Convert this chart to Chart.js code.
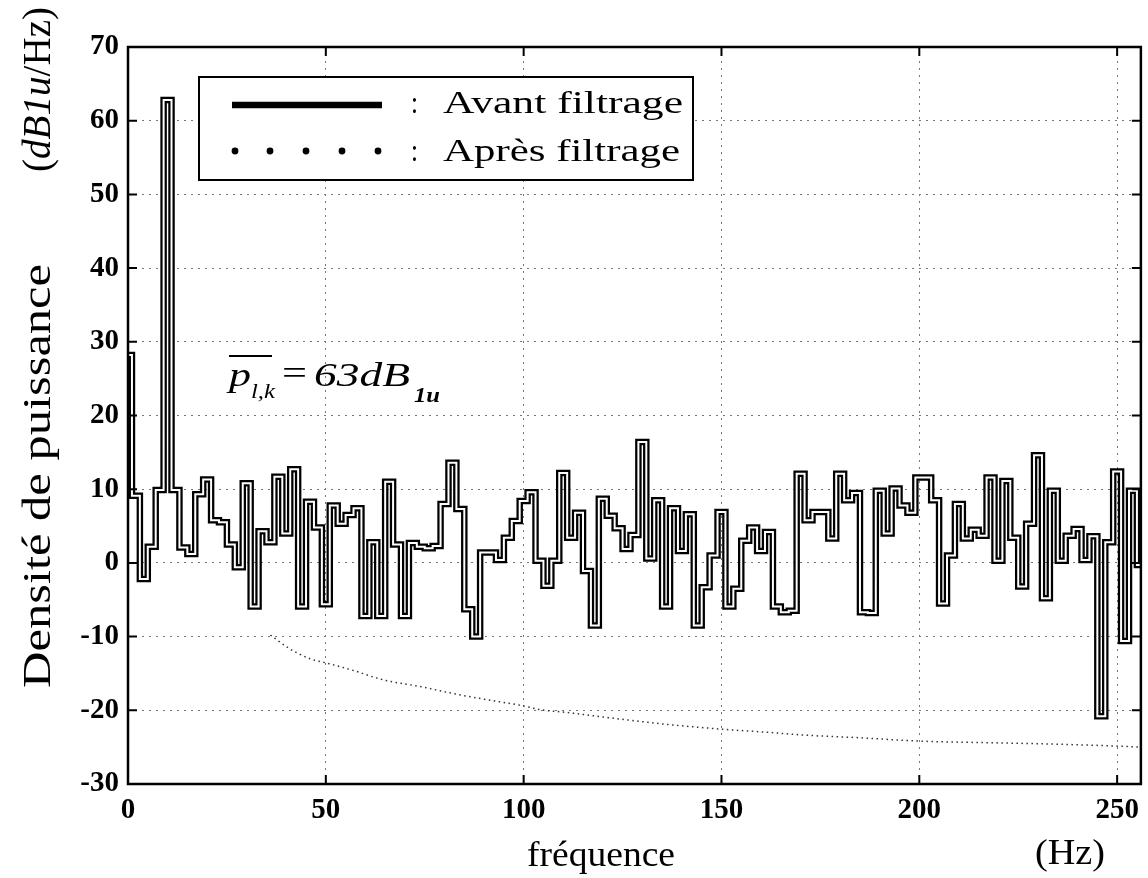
<!DOCTYPE html>
<html>
<head>
<meta charset="utf-8">
<script src="https://cdn.jsdelivr.net/npm/chart.js@4.4.1/dist/chart.umd.min.js"></script>
<style>
  html, body { margin: 0; padding: 0; background: #fff; }
</style>
</head>
<body>
<canvas id="psd" width="1148" height="878"></canvas>
<script>
// frequency bins (Hz), one value every 2 Hz
const freqs = [0,2,4,6,8,10,12,14,16,18,20,22,24,26,28,30,32,34,36,38,40,42,44,46,48,50,52,54,56,58,
  60,62,64,66,68,70,72,74,76,78,80,82,84,86,88,90,92,94,96,98,100,102,104,106,108,110,112,114,116,118,
  120,122,124,126,128,130,132,134,136,138,140,142,144,146,148,150,152,154,156,158,160,162,164,166,168,170,
  172,174,176,178,180,182,184,186,188,190,192,194,196,198,200,202,204,206,208,210,212,214,216,218,220,222,
  224,226,228,230,232,234,236,238,240,242,244,246,248,250,252,254,256];

// "Avant filtrage" (dB1u/Hz)
const avant = [28.2,9.1,-2.2,2.2,9.9,62.8,9.9,2.1,1.2,9.3,11.3,5.8,5.5,2.5,-0.6,10.8,-5.9,4.3,2.8,11.7,
  4.0,12.7,-5.9,8.3,4.8,-5.6,7.8,5.3,6.5,7.4,-7.2,2.8,-7.2,11.0,2.5,-7.2,2.7,2.2,2.0,2.3,
  8.0,13.6,7.3,-6.3,-10.0,1.4,1.4,0.4,3.4,5.7,8.4,9.6,0.3,-3.1,0.3,12.2,3.4,6.8,-1.1,-8.5,
  8.7,6.4,4.7,1.9,3.8,16.4,0.6,8.5,-5.9,7.4,1.6,6.6,-8.5,-3.3,1.0,6.9,-5.9,-3.5,3.0,4.8,
  1.6,4.2,-5.9,-6.7,-6.5,12.1,5.8,6.9,6.9,3.3,12.1,8.5,9.5,-6.7,-6.8,9.8,4.0,10.1,7.8,6.8,
  11.6,11.6,8.5,-5.5,1.0,8.0,3.3,4.5,3.7,11.6,0.3,11.1,3.4,-3.2,5.3,14.6,-4.8,9.8,0.3,3.7,
  4.6,0.4,3.6,-20.8,2.8,12.4,-10.6,9.8,-0.3];

// "Après filtrage"
const apresFreq = [36,41,46,51,57,64,75,81,90,100,104,111,120,136,151,162,172,184,201,218,235,252,256];
const apres = [-9.8,-11.7,-13.0,-13.7,-14.6,-15.8,-16.9,-17.6,-18.5,-19.4,-19.9,-20.3,-20.9,-21.9,
  -22.6,-23.0,-23.4,-23.7,-24.2,-24.4,-24.6,-24.9,-25.0];

const xTicks = [0, 50, 100, 150, 200, 250];
const yTicks = [-30, -20, -10, 0, 10, 20, 30, 40, 50, 60, 70];

const serif = "'Liberation Serif', 'DejaVu Serif', serif";

const avantPts = freqs.map((f, i) => ({ x: f, y: avant[i] }));
const apresPts = apresFreq.map((f, i) => ({ x: f, y: apres[i] }));

// text squeezed/stretched to a given width
function fitText(ctx, text, x, y, w, font) {
  ctx.save();
  ctx.font = font;
  const m = ctx.measureText(text).width;
  ctx.translate(x, y);
  ctx.scale(w / m, 1);
  ctx.textAlign = 'left';
  ctx.textBaseline = 'alphabetic';
  ctx.fillText(text, 0, 0);
  ctx.restore();
}

function drawRuns(ctx, runs, width) {
  let total = 0;
  runs.forEach(r => { ctx.font = r.font; r.w = ctx.measureText(r.t).width; total += r.w; });
  ctx.save();
  ctx.scale(width / total, 1);
  let cx = 0;
  runs.forEach(r => { ctx.font = r.font; ctx.fillText(r.t, cx, r.dy || 0); cx += r.w; });
  ctx.restore();
}

const decor = {
  id: 'decor',
  afterDatasetsDraw(chart) {
    const ctx = chart.ctx;
    const a = chart.chartArea;
    const xs = chart.scales.x, ys = chart.scales.y;
    ctx.save();
    ctx.fillStyle = '#000';
    ctx.strokeStyle = '#000';

    // frame
    ctx.lineWidth = 2.5;
    ctx.strokeRect(a.left, a.top, a.right - a.left, a.bottom - a.top);

    // inward ticks
    ctx.lineWidth = 2;
    ctx.beginPath();
    yTicks.forEach(v => {
      const y = ys.getPixelForValue(v);
      ctx.moveTo(a.left, y); ctx.lineTo(a.left + 9, y);
      ctx.moveTo(a.right, y); ctx.lineTo(a.right - 9, y);
    });
    xTicks.forEach(v => {
      const x = xs.getPixelForValue(v);
      ctx.moveTo(x, a.bottom); ctx.lineTo(x, a.bottom - 9);
      ctx.moveTo(x, a.top); ctx.lineTo(x, a.top + 9);
    });
    ctx.stroke();

    // legend box
    ctx.fillStyle = '#fff';
    ctx.fillRect(199, 77, 494, 103);
    ctx.lineWidth = 2;
    ctx.strokeRect(199, 77, 494, 103);
    ctx.fillStyle = '#000';
    ctx.lineWidth = 6.5;
    ctx.beginPath();
    ctx.moveTo(232, 105); ctx.lineTo(382, 105);
    ctx.stroke();
    [235, 270, 306, 342, 378].forEach(x => {
      ctx.beginPath(); ctx.arc(x, 151, 3.4, 0, Math.PI * 2); ctx.fill();
    });
    fitText(ctx, ':', 411, 113, 7, '32px ' + serif);
    fitText(ctx, ':', 411, 161, 7, '32px ' + serif);
    fitText(ctx, 'Avant filtrage', 443, 113, 240, '32px ' + serif);
    fitText(ctx, 'Après filtrage', 443, 161, 237, '32px ' + serif);

    // annotation  p̄_{l,k} = 63dB_{1u}
    fitText(ctx, 'p', 229, 386, 22, 'italic 33px ' + serif);
    fitText(ctx, 'l,k', 251, 398, 24, 'italic 21px ' + serif);
    fitText(ctx, '=', 282, 384, 25, '33px ' + serif);
    fitText(ctx, '63dB', 314, 386, 96, 'italic 33px ' + serif);
    fitText(ctx, '1u', 414, 402, 26, 'italic bold 20px ' + serif);
    ctx.lineWidth = 2;
    ctx.beginPath();
    ctx.moveTo(229, 356); ctx.lineTo(272, 356);
    ctx.stroke();

    // axis titles
    fitText(ctx, 'fréquence', 527, 866, 148, '36px ' + serif);
    fitText(ctx, '(Hz)', 1035, 864, 70, '36px ' + serif);

    ctx.save();
    ctx.translate(50, 688);
    ctx.rotate(-Math.PI / 2);
    fitText(ctx, 'Densité de puissance', 0, 0, 424, '40px ' + serif);
    ctx.restore();

    ctx.save();
    ctx.translate(50, 172);
    ctx.rotate(-Math.PI / 2);
    drawRuns(ctx, [
      { t: '(', font: '40px ' + serif },
      { t: 'dB1u', font: 'italic 40px ' + serif },
      { t: '/Hz)', font: '40px ' + serif }
    ], 165);
    ctx.restore();

    ctx.restore();
  }
};

const ctx = document.getElementById('psd');

const config = {
  type: 'line',
  data: {
    datasets: [{
      label: 'Avant filtrage',
      data: avantPts,
      borderColor: '#000',
      borderWidth: 6.5,
      stepped: 'middle',
      pointRadius: 0,
      order: 2
    }, {
      label: 'Avant filtrage (trait)',
      data: avantPts,
      borderColor: '#fff',
      borderWidth: 2,
      stepped: 'middle',
      pointRadius: 0,
      order: 1
    }, {
      label: 'Après filtrage',
      data: apresPts,
      borderColor: '#333',
      borderWidth: 1.5,
      borderDash: [1.5, 3.5],
      cubicInterpolationMode: 'monotone',
      pointRadius: 0,
      order: 3
    }]
  },
  options: {
    responsive: false,
    animation: false,
    layout: {
      padding: { top: 47, right: 5, left: 0, bottom: 0 }
    },
    plugins: {
      legend: { display: false },
      tooltip: { enabled: false }
    },
    scales: {
      x: {
        type: 'linear',
        min: 0,
        max: 256,
        afterBuildTicks: s => { s.ticks = xTicks.map(v => ({ value: v })); },
        afterFit: s => { s.height = 94; },
        ticks: {
          color: '#000',
          padding: 9,
          maxRotation: 0,
          font: { family: serif, size: 29, weight: 'bold' }
        },
        grid: { color: '#777', lineWidth: 1, drawTicks: false },
        border: { display: false, dash: [2, 5] }
      },
      y: {
        type: 'linear',
        min: -30,
        max: 70,
        afterBuildTicks: s => { s.ticks = yTicks.map(v => ({ value: v })); },
        afterFit: s => { s.width = 128; },
        ticks: {
          color: '#000',
          padding: 9,
          font: { family: serif, size: 29, weight: 'bold' }
        },
        grid: { color: '#777', lineWidth: 1, drawTicks: false },
        border: { display: false, dash: [2, 5] }
      }
    }
  },
  plugins: [decor]
};

const myChart = new Chart(ctx, config);
</script>
</body>
</html>
